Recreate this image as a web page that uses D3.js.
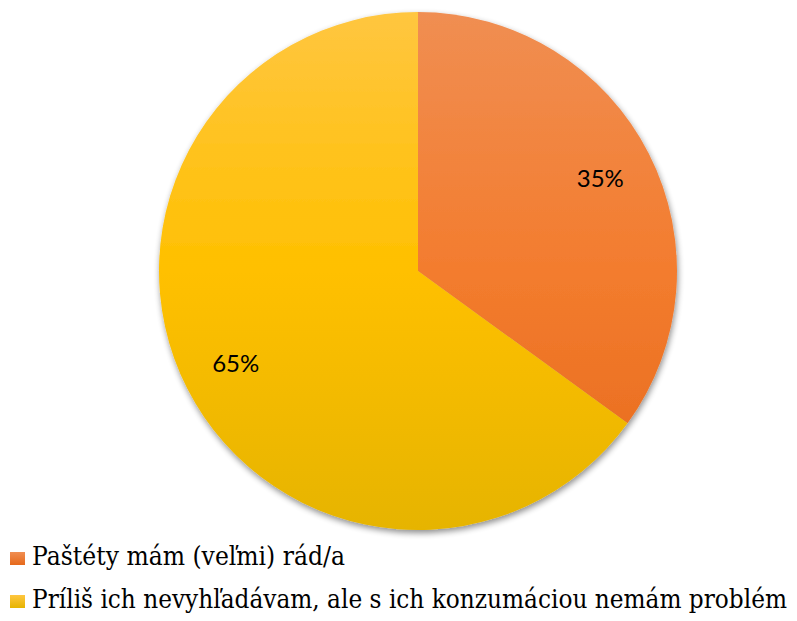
<!DOCTYPE html>
<html>
<head>
<meta charset="utf-8">
<script src="https://cdn.jsdelivr.net/npm/d3@7"></script>
<style>
body { margin: 0; background: #fff; }
</style>
</head>
<body>
<script>
// chart data
var categories = ["Paštéty mám (veľmi) rád/a", "Príliš ich nevyhľadávam, ale s ich konzumáciou nemám problém"];
var values = [35, 65];
var labels = ["35%", "65%"];

var w = 797, h = 621;
var cx = 418, cy = 271, r = 259;

var svg = d3.select("body").append("svg")
    .attr("width", w)
    .attr("height", h);

var defs = svg.append("defs");

// soft drop shadow like the office chart
var filt = defs.append("filter").attr("id", "shadow")
    .attr("x", "-10%").attr("y", "-10%").attr("width", "120%").attr("height", "120%");
filt.append("feGaussianBlur").attr("in", "SourceAlpha").attr("stdDeviation", 3);
filt.append("feOffset").attr("dx", 1).attr("dy", 3).attr("result", "b");
filt.append("feComponentTransfer").append("feFuncA").attr("type", "linear").attr("slope", 0.45);
var merge = filt.append("feMerge");
merge.append("feMergeNode");
merge.append("feMergeNode").attr("in", "SourceGraphic");

// top / middle / bottom shades
var grads = [
    ["#f08e52", "#f37c2e", "#e6691b"],
    ["#ffc640", "#ffc000", "#e6b400"]
];
grads.forEach(function(g, i){
    // gradient in the pie group's own coords (centre = 0,0)
    var lg = defs.append("linearGradient").attr("id", "g" + i)
        .attr("gradientUnits", "userSpaceOnUse")
        .attr("x1", 0).attr("y1", -r).attr("x2", 0).attr("y2", r);
    lg.append("stop").attr("offset", "0%").attr("stop-color", g[0]);
    lg.append("stop").attr("offset", "50%").attr("stop-color", g[1]);
    lg.append("stop").attr("offset", "100%").attr("stop-color", g[2]);
    var lg2 = defs.append("linearGradient").attr("id", "lg" + i)
        .attr("x1", 0).attr("y1", 0).attr("x2", 0).attr("y2", 1);
    lg2.append("stop").attr("offset", "0%").attr("stop-color", g[0]);
    lg2.append("stop").attr("offset", "100%").attr("stop-color", g[2]);
});

var pie = d3.pie().sort(null)(values);
var arc = d3.arc().innerRadius(0).outerRadius(r);
var labelArc = d3.arc().innerRadius(r * 0.79).outerRadius(r * 0.79);

var g = svg.append("g").attr("transform", "translate(" + cx + "," + cy + ")");

g.append("g").attr("filter", "url(#shadow)")
    .selectAll("path")
    .data(pie)
    .enter()
    .append("path")
    .attr("d", arc)
    .attr("fill", function(d, i){ return "url(#g" + i + ")"; })
    .attr("stroke", "none");

g.selectAll(".lbl")
    .data(pie)
    .enter()
    .append("text")
    .attr("class", "lbl")
    .attr("x", function(d){ return labelArc.centroid(d)[0]; })
    .attr("y", function(d){ return labelArc.centroid(d)[1]; })
    .attr("text-anchor", "middle")
    .attr("dy", "0.35em")
    .style("font-family", "Lato, 'Noto Sans', sans-serif")
    .style("font-size", "24px")
    .style("fill", "#000")
    .text(function(d, i){ return labels[i]; });

// legend (Times isn't installed, DejaVu Serif squeezed to the same run length)
var legWidths = [313, 755];
var leg = svg.selectAll(".leg")
    .data(categories)
    .enter()
    .append("g")
    .attr("class", "leg")
    .attr("transform", function(d, i){ return "translate(10," + (565 + i * 43) + ")"; });

leg.append("rect")
    .attr("x", 0).attr("y", -13)
    .attr("width", 15).attr("height", 13)
    .attr("fill", function(d, i){ return "url(#lg" + i + ")"; });

leg.append("text")
    .attr("x", 22)
    .attr("y", 0)
    .attr("font-family", "DejaVu Serif")
    .attr("font-size", 26)
    .attr("textLength", function(d, i){ return legWidths[i]; })
    .attr("lengthAdjust", "spacingAndGlyphs")
    .attr("fill", "#000")
    .text(function(d){ return d; });
</script>
</body>
</html>
